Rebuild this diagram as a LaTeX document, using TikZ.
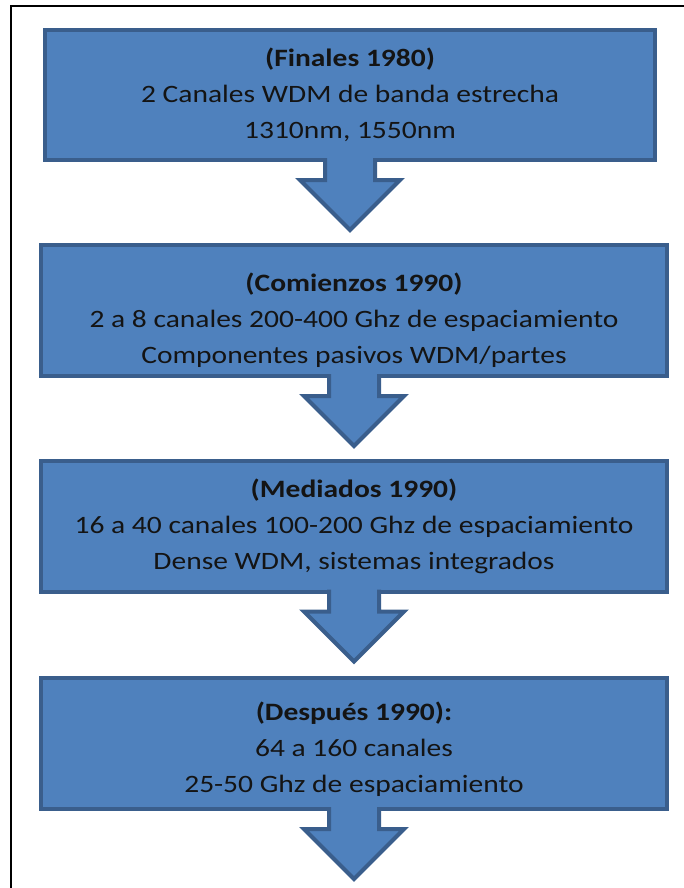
\documentclass[tikz,border=0pt]{standalone}
\usepackage{fontspec}
\setmainfont{Carlito}[FakeStretch=1.18]
\usetikzlibrary{calc}
\definecolor{boxfill}{HTML}{4F81BD}
\definecolor{boxline}{HTML}{3A5E8C}
\definecolor{txt}{HTML}{141414}
\newcommand\stagearrow[1]{%
  \fill[boxfill] ($(#1.south)+(-25,-2.5)$) -- ++(0,22.5) -- ++(-25,0) -- ($(#1.south)+(0,70)$) -- ($(#1.south)+(50,20)$) -- ++(-25,0) -- ++(0,-22.5) -- cycle;
  \draw[boxline, line width=4pt, line join=miter] ($(#1.south)+(-25,-2)$) -- ++(0,22) -- ++(-25,0) -- ($(#1.south)+(0,70)$) -- ($(#1.south)+(50,20)$) -- ++(-25,0) -- ++(0,-22);
}
\begin{document}
\begin{tikzpicture}[x=1pt,y=-1pt,
  stagebox/.style={draw=boxline, line width=4pt, fill=boxfill, inner sep=0pt, outer sep=0pt,
    minimum height=131pt, minimum width=626pt},
  stagetext/.style={text=txt, font=\fontsize{25}{36}\selectfont, align=center, inner sep=0pt},
]
\useasboundingbox (0,0) rectangle (684,888);
\fill[white] (0,0) rectangle (684,888);
\draw[line width=2pt] (11,889) -- (11,6) -- (685,6);

\node[stagebox, minimum width=610pt, minimum height=130pt] (b1) at (350,95) {};
\node[stagebox] (b2) at (354,310.5) {};
\node[stagebox] (b3) at (354,526) {};
\node[stagebox] (b4) at (354,743.5) {};

\node[stagetext] (t1) at (b1.center)
  {\textbf{(Finales 1980)}\\2 Canales WDM de banda estrecha\\1310nm, 1550nm};
\node[stagetext] (t2) at ([yshift=-10pt]b2.center)
  {\textbf{(Comienzos 1990)}\\2 a 8 canales 200-400 Ghz de espaciamiento\\Componentes pasivos WDM/partes};
\node[stagetext] (t3) at (b3.center)
  {\textbf{(Mediados 1990)}\\16 a 40 canales 100-200 Ghz de espaciamiento\\Dense WDM, sistemas integrados};
\node[stagetext] (t4) at ([yshift=-6pt]b4.center)
  {\textbf{(Después 1990):}\\64 a 160 canales\\25-50 Ghz de espaciamiento};

\stagearrow{b1}
\stagearrow{b2}
\stagearrow{b3}
\stagearrow{b4}
\end{tikzpicture}
\end{document}
